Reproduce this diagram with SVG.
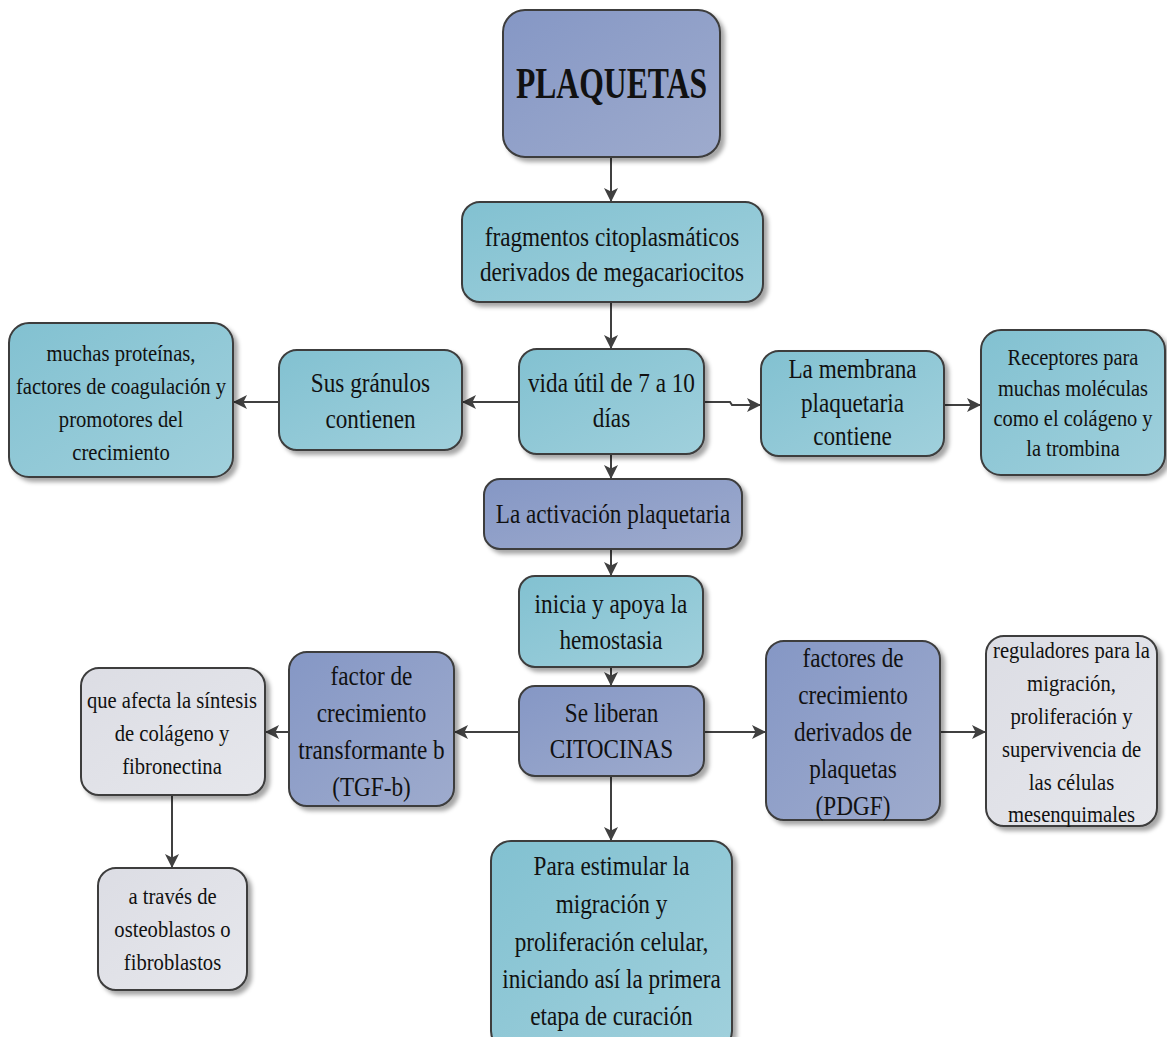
<svg xmlns="http://www.w3.org/2000/svg" width="1167" height="1037" viewBox="0 0 1167 1037">
  <defs>
    <linearGradient id="gPurple" x1="0" y1="0" x2="1" y2="1">
      <stop offset="0" stop-color="#8597c5"/>
      <stop offset="1" stop-color="#9eabcd"/>
    </linearGradient>
    <linearGradient id="gTeal" x1="0" y1="0" x2="1" y2="1">
      <stop offset="0" stop-color="#82c1d1"/>
      <stop offset="1" stop-color="#a0d0dc"/>
    </linearGradient>
    <linearGradient id="gGrey" x1="0" y1="0" x2="1" y2="1">
      <stop offset="0" stop-color="#dcdde4"/>
      <stop offset="1" stop-color="#e6e7ec"/>
    </linearGradient>
    <filter id="shadow" x="-10%" y="-10%" width="130%" height="130%">
      <feDropShadow dx="4" dy="4" stdDeviation="2.2" flood-color="#000" flood-opacity="0.35"/>
    </filter>
    <marker id="arrow" viewBox="0 0 14 14" refX="13" refY="7" markerWidth="14" markerHeight="14" markerUnits="userSpaceOnUse" orient="auto">
      <path d="M0,0 L14,7 L0,14 L3.5,7 z" fill="#404040"/>
    </marker>
  </defs>
  <style>
    .box { stroke: #3c3c3c; stroke-width: 2; filter: url(#shadow); }
    .purple { fill: url(#gPurple); }
    .teal { fill: url(#gTeal); }
    .grey { fill: url(#gGrey); }
    text { font-family: "Liberation Serif", "Times New Roman", serif; fill: #111; text-anchor: middle; }
    .t27 { font-size: 27px; }
    .t24 { font-size: 24px; }
    .title { font-size: 44px; font-weight: bold; }
    .edge { fill: none; stroke: #404040; stroke-width: 2; marker-end: url(#arrow); }
  </style>

  <rect width="1167" height="1037" fill="#ffffff"/>

  <!-- connectors -->
  <g id="connectors">
    <path class="edge" d="M611,157 L611,201"/>
    <path class="edge" d="M611,302 L611,348"/>
    <path class="edge" d="M519,402 L463,402"/>
    <path class="edge" d="M279,402 L234,402"/>
    <path class="edge" d="M704,402 L730,402 L732,405 L760,405"/>
    <path class="edge" d="M944,405 L980,405"/>
    <path class="edge" d="M611,454 L611,478"/>
    <path class="edge" d="M611,549 L611,575"/>
    <path class="edge" d="M611,667 L611,685"/>
    <path class="edge" d="M519,732 L455,732"/>
    <path class="edge" d="M289,732 L266,732"/>
    <path class="edge" d="M172,795 L172,867"/>
    <path class="edge" d="M704,732 L765,732"/>
    <path class="edge" d="M940,732 L985,732"/>
    <path class="edge" d="M611,776 L611,840"/>
  </g>

  <!-- nodes -->
  <g id="plaquetas">
    <rect class="box purple" x="503" y="10" width="217" height="147" rx="22"/>
    <g transform="translate(611.5 0) scale(0.72 1)">
      <text class="title" x="0" y="98">PLAQUETAS</text>
    </g>
  </g>

  <g id="fragmentos">
    <rect class="box teal" x="462" y="202" width="301" height="100" rx="18"/>
    <g class="t27" transform="translate(612 0) scale(0.86 1)">
      <text x="0" y="246">fragmentos citoplasmáticos</text>
      <text x="0" y="281">derivados de megacariocitos</text>
    </g>
  </g>

  <g id="vida">
    <rect class="box teal" x="519" y="349" width="185" height="105" rx="18"/>
    <g class="t27" transform="translate(611.5 0) scale(0.86 1)">
      <text x="0" y="392">vida útil de 7 a 10</text>
      <text x="0" y="427">días</text>
    </g>
  </g>

  <g id="granulos">
    <rect class="box teal" x="279" y="350" width="183" height="100" rx="18"/>
    <g class="t27" transform="translate(370.5 0) scale(0.86 1)">
      <text x="0" y="392">Sus gránulos</text>
      <text x="0" y="428">contienen</text>
    </g>
  </g>

  <g id="proteinas">
    <rect class="box teal" x="9" y="323" width="224" height="154" rx="20"/>
    <g class="t24" transform="translate(121 0) scale(0.86 1)">
      <text x="0" y="361">muchas proteínas,</text>
      <text x="0" y="394">factores de coagulación y</text>
      <text x="0" y="427">promotores del</text>
      <text x="0" y="460">crecimiento</text>
    </g>
  </g>

  <g id="membrana">
    <rect class="box teal" x="761" y="351" width="183" height="105" rx="18"/>
    <g class="t27" transform="translate(852.5 0) scale(0.86 1)">
      <text x="0" y="378">La membrana</text>
      <text x="0" y="412">plaquetaria</text>
      <text x="0" y="445">contiene</text>
    </g>
  </g>

  <g id="receptores">
    <rect class="box teal" x="981" y="330" width="184" height="145" rx="20"/>
    <g class="t24" transform="translate(1073 0) scale(0.85 1)">
      <text x="0" y="365">Receptores para</text>
      <text x="0" y="396">muchas moléculas</text>
      <text x="0" y="426">como el colágeno y</text>
      <text x="0" y="456">la trombina</text>
    </g>
  </g>

  <g id="activacion">
    <rect class="box purple" x="484" y="479" width="258" height="70" rx="16"/>
    <g class="t27" transform="translate(613 0) scale(0.86 1)">
      <text x="0" y="523">La activación plaquetaria</text>
    </g>
  </g>

  <g id="hemostasia">
    <rect class="box teal" x="519" y="576" width="184" height="91" rx="16"/>
    <g class="t27" transform="translate(611 0) scale(0.86 1)">
      <text x="0" y="613">inicia y apoya la</text>
      <text x="0" y="649">hemostasia</text>
    </g>
  </g>

  <g id="citocinas">
    <rect class="box purple" x="519" y="686" width="185" height="90" rx="16"/>
    <g class="t27" transform="translate(611.5 0) scale(0.86 1)">
      <text x="0" y="722">Se liberan</text>
      <text x="0" y="758">CITOCINAS</text>
    </g>
  </g>

  <g id="tgf">
    <rect class="box purple" x="289" y="652" width="165" height="154" rx="18"/>
    <g class="t27" transform="translate(371.5 0) scale(0.86 1)">
      <text x="0" y="685">factor de</text>
      <text x="0" y="722">crecimiento</text>
      <text x="0" y="759">transformante b</text>
      <text x="0" y="796">(TGF-b)</text>
    </g>
  </g>

  <g id="sintesis">
    <rect class="box grey" x="81" y="668" width="184" height="127" rx="18"/>
    <g class="t24" transform="translate(172 0) scale(0.86 1)">
      <text x="0" y="708">que afecta la síntesis</text>
      <text x="0" y="741">de colágeno y</text>
      <text x="0" y="774">fibronectina</text>
    </g>
  </g>

  <g id="osteoblastos">
    <rect class="box grey" x="98" y="868" width="149" height="122" rx="18"/>
    <g class="t24" transform="translate(172.5 0) scale(0.86 1)">
      <text x="0" y="904">a través de</text>
      <text x="0" y="937">osteoblastos o</text>
      <text x="0" y="970">fibroblastos</text>
    </g>
  </g>

  <g id="pdgf">
    <rect class="box purple" x="766" y="641" width="174" height="179" rx="18"/>
    <g class="t27" transform="translate(853 0) scale(0.86 1)">
      <text x="0" y="667">factores de</text>
      <text x="0" y="704">crecimiento</text>
      <text x="0" y="741">derivados de</text>
      <text x="0" y="778">plaquetas</text>
      <text x="0" y="815">(PDGF)</text>
    </g>
  </g>

  <g id="reguladores">
    <rect class="box grey" x="986" y="636" width="171" height="190" rx="18"/>
    <g class="t24" transform="translate(1071.5 0) scale(0.86 1)">
      <text x="0" y="658">reguladores para la</text>
      <text x="0" y="691">migración,</text>
      <text x="0" y="724">proliferación y</text>
      <text x="0" y="757">supervivencia de</text>
      <text x="0" y="790">las células</text>
      <text x="0" y="822">mesenquimales</text>
    </g>
  </g>

  <g id="estimular">
    <rect class="box teal" x="491" y="841" width="241" height="210" rx="20"/>
    <g class="t27" transform="translate(611.5 0) scale(0.86 1)">
      <text x="0" y="875">Para estimular la</text>
      <text x="0" y="913">migración y</text>
      <text x="0" y="951">proliferación celular,</text>
      <text x="0" y="988">iniciando así la primera</text>
      <text x="0" y="1025">etapa de curación</text>
    </g>
  </g>
</svg>
